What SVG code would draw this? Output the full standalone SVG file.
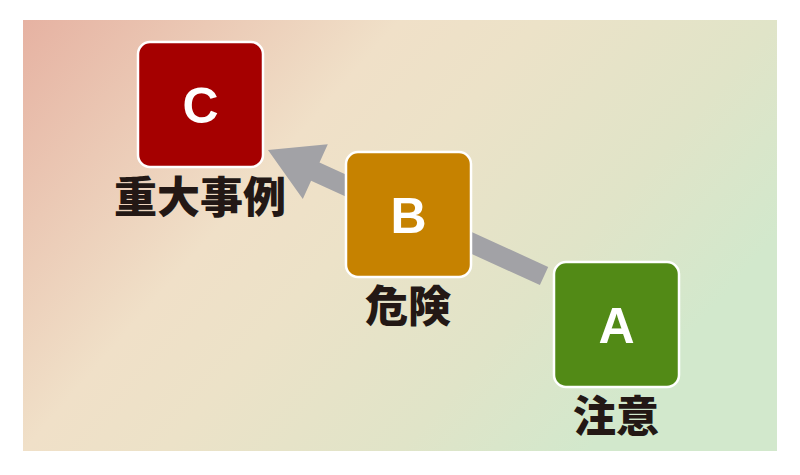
<svg xmlns="http://www.w3.org/2000/svg" width="800" height="475" viewBox="0 0 800 475">
<defs>
<linearGradient id="bg" gradientUnits="userSpaceOnUse" x1="23" y1="20" x2="557" y2="487">
<stop offset="0" stop-color="#e6b2a2"/>
<stop offset="0.4" stop-color="#f0e0c8"/>
<stop offset="0.55" stop-color="#ece2c8"/>
<stop offset="0.8" stop-color="#e0e4c8"/>
<stop offset="1" stop-color="#d2e8cc"/>
</linearGradient>
<style>
.box{stroke:#ffffff;stroke-width:2.5}
.letter{font-family:"Liberation Sans",Arial,sans-serif;font-weight:bold;font-size:50px;fill:#ffffff;text-anchor:middle}
.label{font-family:"Noto Sans CJK JP","Noto Sans CJK SC",sans-serif;font-weight:900;font-size:43px;fill:#231815;text-anchor:middle}
</style>
</defs>
<rect x="0" y="0" width="800" height="475" fill="#ffffff"/>
<rect x="23" y="20" width="754" height="431" fill="url(#bg)"/>
<g id="connectors">
<polygon points="548.2,266.9 319.5,162.5 327.8,144.3 268,150 302.8,198.9 311.1,180.7 539.9,285.1" fill="#a2a2a6"/>
</g>
<g id="nodeC">
<rect class="box" x="138" y="42" width="125" height="125" rx="12" fill="#a50000"/>
<text class="letter" x="200.5" y="122.5">C</text>
<text class="label" x="200" y="213">重大事例</text>
</g>
<g id="nodeB">
<rect class="box" x="346" y="152" width="125" height="125" rx="12" fill="#c68200"/>
<text class="letter" x="408.5" y="232.5">B</text>
<text class="label" x="408" y="322">危険</text>
</g>
<g id="nodeA">
<rect class="box" x="554" y="262" width="125" height="125" rx="12" fill="#528a16"/>
<text class="letter" x="616.5" y="342.5">A</text>
<text class="label" x="616" y="432">注意</text>
</g>
</svg>
